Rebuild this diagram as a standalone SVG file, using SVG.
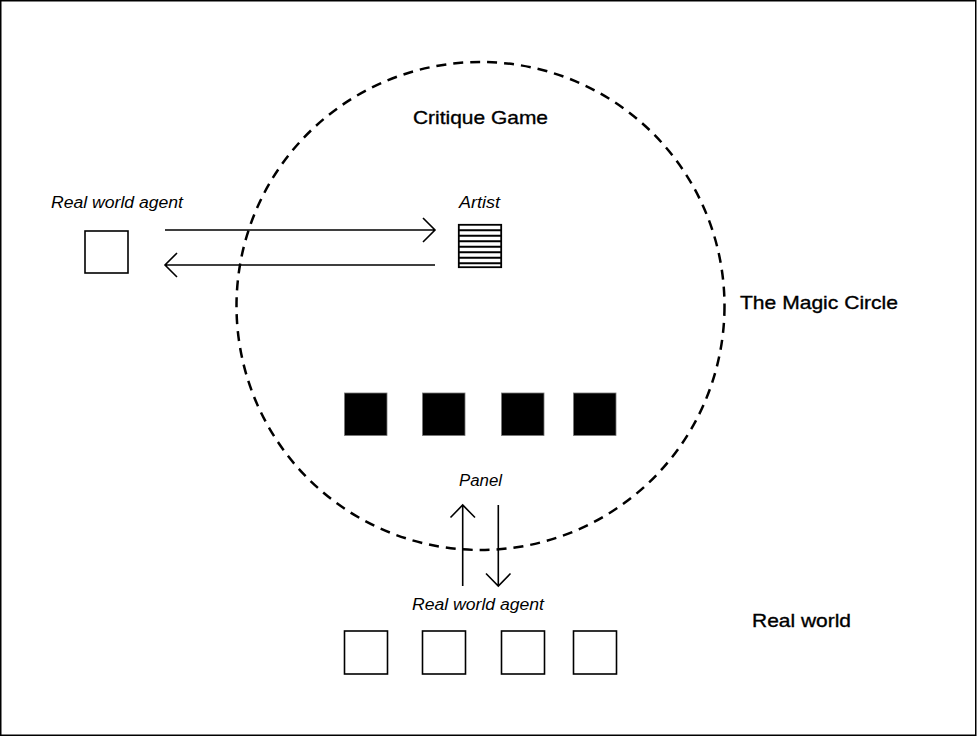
<svg xmlns="http://www.w3.org/2000/svg" width="977" height="736" viewBox="0 0 977 736">
<defs>
<style>
.t{font-family:"Liberation Sans",Arial,sans-serif;fill:#000}
.title{font-size:19px;font-weight:500;stroke:#000;stroke-width:0.35}
.lab{font-size:16px;font-style:italic}
.box{fill:#fff;stroke:#000;stroke-width:1.6}
.solid{fill:#000;stroke:#777;stroke-width:0.8}
.ln{fill:none;stroke:#000;stroke-width:1.6}
</style>
</defs>
<rect x="0.75" y="0.75" width="975" height="734.5" fill="#fff" stroke="#000" stroke-width="1.5"/>
<g id="magic-circle">
<circle cx="480.5" cy="306" r="244" fill="none" stroke="#000" stroke-width="2.5" stroke-dasharray="10,7"/>
<text class="t title" x="740" y="309" textLength="158" lengthAdjust="spacingAndGlyphs">The Magic Circle</text>
</g>
<text class="t title" x="413" y="124" textLength="135" lengthAdjust="spacingAndGlyphs">Critique Game</text>
<text class="t title" x="752" y="627" textLength="99" lengthAdjust="spacingAndGlyphs">Real world</text>
<g id="left-agent">
<text class="t lab" x="51" y="208" textLength="132" lengthAdjust="spacingAndGlyphs">Real world agent</text>
<rect class="box" x="85" y="231" width="43" height="42"/>
</g>
<g id="artist">
<text class="t lab" x="459" y="208" textLength="41" lengthAdjust="spacingAndGlyphs">Artist</text>
<rect x="458.8" y="224.8" width="42.4" height="42.4" fill="#fff" stroke="#000" stroke-width="1.8"/>
<path d="M459 230.3H501M459 235.8H501M459 241.3H501M459 246.8H501M459 252.3H501M459 257.8H501M459 263.3H501" stroke="#000" stroke-width="2"/>
</g>
<g id="panel">
<text class="t lab" x="459" y="486" textLength="43" lengthAdjust="spacingAndGlyphs">Panel</text>
<rect class="solid" x="344.5" y="393" width="42.5" height="42.5"/>
<rect class="solid" x="422.5" y="393" width="42.5" height="42.5"/>
<rect class="solid" x="501.5" y="393" width="42.5" height="42.5"/>
<rect class="solid" x="573.5" y="393" width="42.5" height="42.5"/>
</g>
<g id="bottom-agents">
<text class="t lab" x="412" y="610" textLength="132" lengthAdjust="spacingAndGlyphs">Real world agent</text>
<rect class="box" x="344.5" y="631" width="43" height="43"/>
<rect class="box" x="422.5" y="631" width="43" height="43"/>
<rect class="box" x="501.5" y="631" width="43" height="43"/>
<rect class="box" x="573.5" y="631" width="43" height="43"/>
</g>
<g id="connectors">
<path class="ln" d="M165 230H435M423 218L435 230L423 242"/>
<path class="ln" d="M435 265H165M177 253L165 265L177 277"/>
<path class="ln" d="M462.7 586V505M450.5 517.5L462.7 505L475 517.5"/>
<path class="ln" d="M498.3 505V586M486 573.5L498.3 586L510.5 573.5"/>
</g>
</svg>
